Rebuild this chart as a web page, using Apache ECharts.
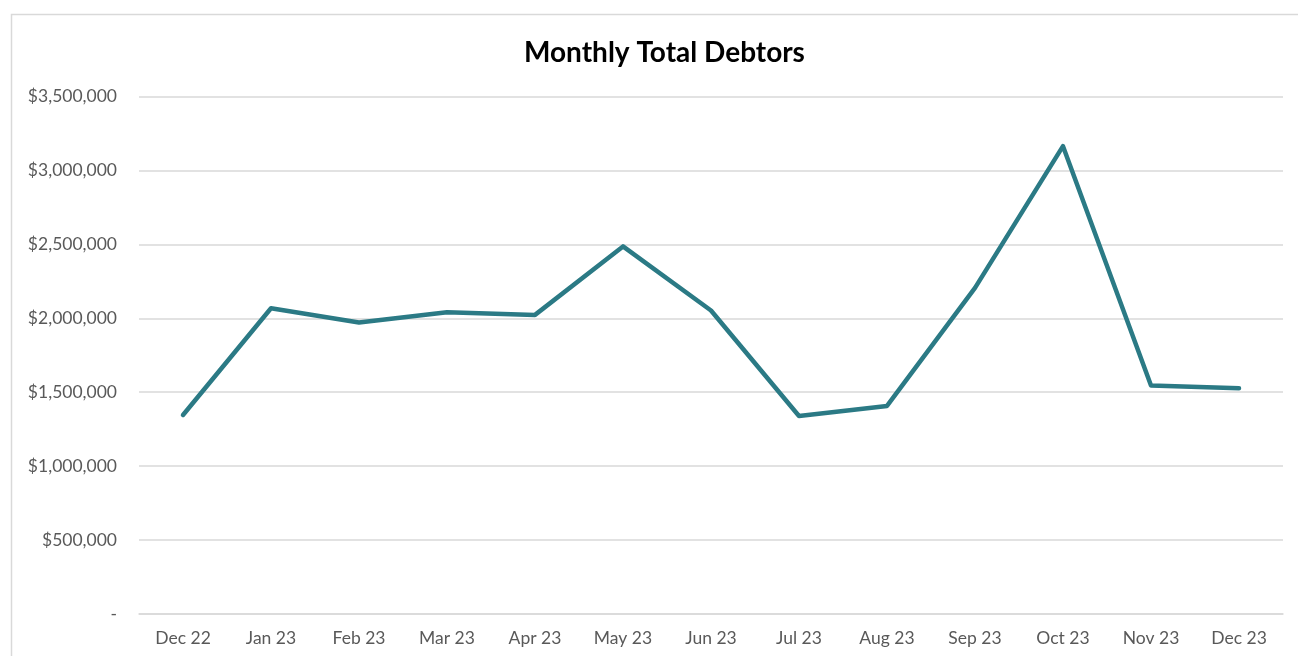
<!DOCTYPE html>
<html lang="en">
<head>
    <meta charset="UTF-8">
    <title>Monthly Total Debtors</title>
    <style>
        html, body { margin: 0; padding: 0; background: #fff; }
    </style>
</head>
<body>
<div id="main" style="width: 1298px;height:656px;"></div>
<script src="https://cdn.jsdelivr.net/npm/echarts@6/dist/echarts.min.js"></script>
<script>
// data
const months = ['Dec 22', 'Jan 23', 'Feb 23', 'Mar 23', 'Apr 23', 'May 23', 'Jun 23',
    'Jul 23', 'Aug 23', 'Sep 23', 'Oct 23', 'Nov 23', 'Dec 23']
const debtors = [1346000, 2068000, 1971000, 2041000, 2023000, 2486000, 2053000,
    1339000, 1407000, 2206000, 3164000, 1545000, 1527000]

const FONT = 'Lato'

function money(v) {
    if (v === 0) return '-'
    return '$' + v.toLocaleString('en-US')
}

let myChart = echarts.init(document.getElementById('main'))
let option = {
    backgroundColor: '#fff',
    animation: false,
    title: {
        text: 'Monthly Total Debtors',
        left: 519,
        top: 34,
        textStyle: { fontFamily: FONT, fontSize: 28, fontWeight: 'bold', color: '#000' }
    },
    graphic: [{
        type: 'rect',
        shape: { x: 11.5, y: 14.5, width: 1320, height: 700 },
        style: { fill: 'none', stroke: '#d9d9d9', lineWidth: 1.5 },
        silent: true
    }],
    grid: { left: 139, right: 15, top: 96.5, bottom: 42 },
    xAxis: {
        type: 'category',
        data: months,
        boundaryGap: true,
        axisLine: { lineStyle: { color: '#d9d9d9', width: 1.5 } },
        axisTick: { show: false },
        axisLabel: { fontFamily: FONT, fontSize: 17.5, color: '#595959', margin: 15 }
    },
    yAxis: {
        type: 'value',
        min: 0,
        max: 3500000,
        interval: 500000,
        axisLine: { show: false },
        axisTick: { show: false },
        splitLine: { lineStyle: { color: '#d9d9d9', width: 1.5 } },
        axisLabel: { fontFamily: FONT, fontSize: 17.5, color: '#595959', margin: 22, formatter: money }
    },
    series: [{
        type: 'line',
        data: debtors,
        symbol: 'none',
        lineStyle: { color: '#2b7a85', width: 4.5, cap: 'round', join: 'round' }
    }]
}
myChart.setOption(option)
</script>
</body>
</html>
